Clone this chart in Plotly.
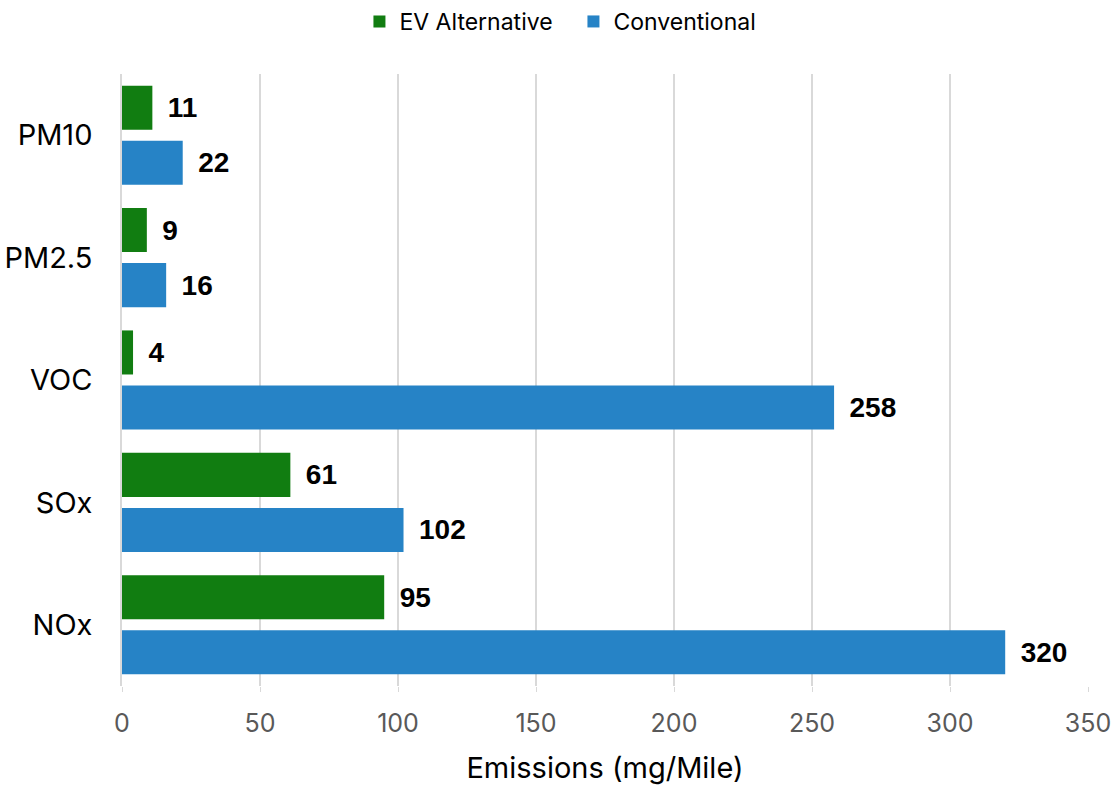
import plotly.graph_objects as go

categories = ["PM10", "PM2.5", "VOC", "SOx", "NOx"]
ev_alternative = [11, 9, 4, 61, 95]
conventional = [22, 16, 258, 102, 320]
x_ticks = [0, 50, 100, 150, 200, 250, 300, 350]

GREEN = "#117D11"
BLUE = "#2683C6"
GRID = "#D9D9D9"

label_font = dict(family="Liberation Sans, Arial, sans-serif", size=28, color="#000000")

fig = go.Figure()
for name, values, color in [("EV Alternative", ev_alternative, GREEN),
                            ("Conventional", conventional, BLUE)]:
    fig.add_trace(go.Bar(
        y=categories, x=values, name=name, orientation="h",
        marker=dict(color=color, line=dict(width=0)),
        text=values, texttemplate="\u00a0\u2006<b>%{x}</b>",
        textposition="outside", textfont=label_font, cliponaxis=False,
    ))

fig.update_layout(
    width=1115, height=785,
    margin=dict(l=122, r=27, t=74, b=99),
    paper_bgcolor="white", plot_bgcolor="white",
    barmode="group", bargap=0.1, bargroupgap=0.2,
    font=dict(family="Inter, Open Sans, sans-serif", color="#000000"),
    showlegend=True,
    legend=dict(orientation="h", x=0.5143, xanchor="center", xref="container",
                y=1.0, yanchor="top", yref="container", font=dict(size=23),
                traceorder="normal", itemwidth=30, tracegroupgap=0,
                entrywidth=169),
)
fig.update_xaxes(
    range=[0, 350], tickvals=x_ticks, showgrid=True, gridcolor=GRID, gridwidth=1.5,
    zeroline=False, ticks="outside", ticklen=5, tickcolor=GRID, automargin=False,
    tickfont=dict(size=25, color="#595959"), ticklabelstandoff=10,
    ticklabeloverflow="allow",
    title=dict(text="Emissions (mg/Mile)", font=dict(size=29, color="#000000"), standoff=22),
)
fig.update_yaxes(
    autorange="reversed", showgrid=False, zeroline=False, showline=True,
    linecolor=GRID, linewidth=1.5, automargin=False,
    tickfont=dict(size=29, color="#000000"),
    ticks="outside", ticklen=22, tickcolor="rgba(0,0,0,0)",
)

fig.write_html("out.html")
